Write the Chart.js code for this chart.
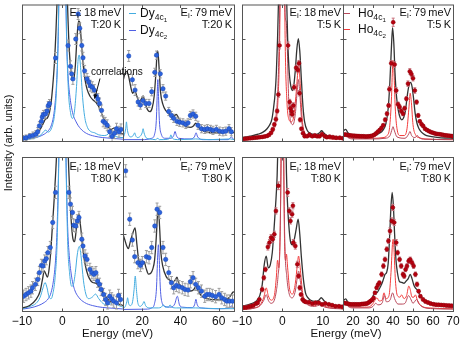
<!DOCTYPE html>
<html><head><meta charset="utf-8">
<script src="https://cdn.jsdelivr.net/npm/chart.js@4.4.1/dist/chart.umd.min.js"></script>
<style>
html,body{margin:0;padding:0;background:#fff;}
#wrap{position:relative;width:463px;height:339px;overflow:hidden;font-family:"Liberation Sans",Arial,Helvetica,sans-serif;color:#111;}
#wrap canvas{position:absolute;left:0;top:0;}
.ann{position:absolute;font-size:11px;line-height:12px;white-space:nowrap;text-align:right;}
.leg{position:absolute;font-size:12px;line-height:12px;white-space:nowrap;}
.ln{display:inline-block;height:1px;vertical-align:middle;}
sub{font-size:72%;vertical-align:-0.3em;line-height:0;}
.xt{position:absolute;top:327px;width:120px;text-align:center;font-size:11.5px;line-height:12px;}
#ytitle{position:absolute;left:-92px;top:137px;width:200px;text-align:center;transform:rotate(-90deg);font-size:11px;line-height:12px;}
</style></head>
<body><div id="wrap"></div>
<script>
// ---------- axis ticks ----------
const xTicks18 = [-10, 0, 10];
const xTicksDy79 = [20, 40, 60];
const xTicksHo79 = [20, 30, 40, 50, 60, 70];
const yTicks = [0, 25, 50, 75, 100];
const range18 = [-10, 15];
const rangeDy79 = [10, 68];
const rangeHo79 = [15, 70];

// ---------- Dy, Ei 18 meV, T 20 K ----------
const dyE18T20_obs = [[-9.8,2.0,2],[-9.0,2.4,2],[-8.1,3.5,2],[-7.3,4.1,2.5],[-6.6,5.0,2.5],[-6.1,6.8,3],[-5.7,11.1,3],[-5.2,14.4,3],[-5.0,17.6,3],[-4.7,19.4,3],[-4.2,19.8,3],[-3.8,22.0,3],[-3.5,25.9,3],[-3.2,27.4,3],[-1.7,60.8,4],[1.4,69.9,4],[2.0,54.7,4],[2.3,49.2,4],[2.6,45.5,4],[3.3,74.7,4],[3.9,93.0,4],[4.3,82.6,4],[4.8,70.0,4],[5.1,61.0,4],[5.5,51.4,4],[6.1,45.5,4],[6.5,43.3,4],[6.9,40.5,4],[7.4,39.4,4],[7.9,37.3,4],[8.4,32.9,4],[8.8,30.7,4],[9.2,27.5,4],[9.7,22.4,4],[10.1,14.4,4],[10.6,13.3,4],[11.1,11.5,4],[11.7,6.8,4],[12.3,3.5,4],[12.9,5.7,4],[13.4,9.0,4],[14.0,6.8,4],[14.5,8.5,4]];
const dyE18T20_calc = [[-10,2],[-8,3],[-6.5,5],[-5.5,8.5],[-4.8,12.5],[-4.2,16],[-3.7,17],[-3.2,21],[-2.8,28],[-2.4,40],[-2.0,56],[-1.6,80],[-1.2,115],[-0.7,190],[0,260],[0.7,190],[1.1,120],[1.5,80],[1.9,58],[2.4,46],[2.8,45],[3.2,55],[3.6,75],[4.0,88],[4.3,87],[4.7,72],[5.1,57],[5.6,45],[6.1,38],[6.8,33],[7.6,30],[8.4,28],[9.2,24],[10,18],[11,12],[12,8.5],[12.8,9.5],[13.5,7.5],[15,5]];
const dyE18T20_c1 = [[-10,1],[-8,1.5],[-6.5,2.5],[-5.3,4.5],[-4.6,7],[-4.1,8],[-3.6,6.5],[-3.0,7.5],[-2.5,11],[-2.0,18],[-1.5,35],[-1.1,70],[-0.7,140],[0,260],[0.7,140],[1.1,70],[1.5,36],[2.0,21],[2.5,16.5],[3.0,22],[3.5,40],[3.9,60],[4.15,63],[4.5,54],[5.0,32],[5.5,18],[6.2,10],[7.0,7],[8.0,6],[9,4.5],[10.5,4],[11.3,5],[11.8,6.5],[12.3,5],[13.5,3],[15,2.5]];
const dyE18T20_c2 = [[-10,1],[-8,1.8],[-6,3],[-4.5,5],[-3.5,7.5],[-2.8,11],[-2.2,18],[-1.8,28],[-1.4,45],[-1.0,80],[-0.6,160],[0,260],[0.6,160],[1.0,80],[1.4,48],[1.8,34],[2.5,21],[3.4,14],[4.5,9],[6,5.5],[8,3.5],[10,2.5],[12,2],[15,1.3]];

// ---------- Dy, Ei 79 meV, T 20 K ----------
const dyE79T20_obs = [[13.0,62.3,4],[14.9,44.9,4],[16.3,37.3,4],[17.9,28.6,3],[19.1,26.3,3],[20.4,29.6,3],[21.9,27.5,3],[23.6,27.5,3],[25.0,36.1,3],[26.6,50.3,3],[27.5,62.9,3],[29.5,49.2,3],[30.9,38.3,3],[32.3,32.9,3],[33.9,21.6,3],[35.3,18.7,3],[36.5,16.6,3],[38.2,14.4,3],[39.6,13.7,3],[41.3,13.3,3],[42.8,12.2,3],[44.0,13.3,3],[45.2,18.7,3],[46.6,19.8,3],[48.0,18.1,3],[49.2,11.5,3],[51.0,9.0,3],[52.7,8.5,3],[54.1,9.0,3],[55.7,8.5,3],[57.0,7.8,3],[58.8,8.5,3],[60.5,7.2,3],[62.2,6.8,3],[63.7,7.2,3],[65.4,9.0,3],[66.6,6.8,3]];
const dyE79T20_calc = [[10,44],[11,49],[12,51],[13,47],[14,40],[15,35],[16.2,37],[17.2,33],[18.5,29],[19.7,31],[20.5,33],[21.5,28],[22.8,23],[24,21.5],[25.2,24],[26.3,33],[27.2,50],[27.8,64],[28.2,66],[28.8,55],[29.6,36],[30.8,27],[32.5,22],[34.5,19.5],[36.5,18],[37.8,19.5],[39,17],[41,13],[43,10.5],[45,10],[46.8,11],[48,13],[49.2,10.5],[51,8],[54,6.5],[58,6],[62,6],[64.5,7],[65.8,8.5],[67,6.5],[68,6]];
const dyE79T20_c1 = [[10,2],[11,6],[11.4,9],[11.8,14],[12.2,9],[12.8,5],[13.8,3],[15,3.5],[15.7,5],[16.1,6],[16.6,4],[17.5,2.5],[19,3.5],[20,6],[20.5,9],[21,6],[22,2.5],[24,1.5],[27,1],[28.2,2],[29,1],[33,1.2],[34.5,2.5],[35,4.5],[35.6,2.5],[37,1.2],[40,1],[48,1.5],[55,1],[66,1.5],[68,1]];
const dyE79T20_c2 = [[10,1],[20,1],[25,2],[26.5,5],[27.4,15],[27.9,35],[28.2,45],[28.5,35],[29,15],[30,5],[32,2],[35,2],[36.5,4],[37.2,7],[37.9,4],[39,2],[45,1.5],[47.3,3],[48.2,6],[49,3],[52,1],[65,1],[66.7,3],[67.5,1.5],[68,1]];

// ---------- Ho, Ei 18 meV, T 5 K ----------
const hoE18T5_obs = [[-9.8,1.5,1],[-9.2,1.7,1],[-8.6,1.9,1],[-8.0,2.0,1],[-7.4,2.2,1],[-6.8,2.4,1],[-6.2,2.6,1],[-5.6,2.8,1],[-5.0,3.0,1],[-4.4,3.3,1],[-3.8,3.7,1],[-3.3,4.5,1],[-2.8,6.0,1],[-2.4,8.5,1.5],[-2.0,12,1.5],[-1.6,16,1.5],[-1.3,22,1.5],[-1.0,34,2],[-0.7,70,2.5],[1.4,70,2.5],[1.8,28.5,2],[2.0,24,2],[2.3,21.8,2],[2.4,19.6,2],[2.7,26,2],[2.9,39.4,2],[3.4,53.6,2],[3.8,52,2],[4.1,57,2],[4.25,35,2],[4.4,15.5,1.5],[4.7,9,1],[5.1,5.7,1],[5.5,3.5,1],[6.1,3.5,1],[6.7,4.6,1],[7.4,3.5,1],[8.0,4.1,1],[8.6,3.5,1],[9.2,3.5,1],[9.8,5.0,1],[10.5,3.5,1],[11.0,2.8,1],[11.7,3.2,1],[12.5,2.8,1],[13.3,2.4,1],[14.2,2.4,1],[15.0,2.0,1]];
const hoE18T5_calc = [[-10,2.4],[-8,3.5],[-6,5],[-4.8,6.5],[-3.8,9],[-3.2,11.5],[-2.6,16],[-2.2,24],[-1.8,35],[-1.5,50],[-1.2,75],[-0.9,110],[-0.5,180],[0,230],[0.5,180],[1.0,110],[1.3,75],[1.7,50],[2.1,40],[2.5,37],[2.8,40],[3.2,52],[3.6,68],[3.95,75],[4.3,66],[4.7,45],[5.1,25],[5.5,14],[6.2,7.5],[7,5.5],[8.3,4.8],[9.2,6],[9.7,7.5],[10.2,6],[11,4],[12.5,3],[15,2]];
const hoE18T5_c1 = [[-10,1.5],[-6,2.5],[-4,4],[-3,6],[-2.2,10],[-1.6,18],[-1.1,40],[-0.7,90],[-0.3,200],[0,240],[0.3,200],[0.55,110],[0.75,90],[0.95,87],[1.2,70],[1.5,35],[2,15],[2.6,12],[3.2,20],[3.7,38],[3.95,45],[4.3,35],[4.8,14],[5.5,6],[6.5,3.5],[9,2.5],[9.7,4],[10.5,2.5],[15,1.2]];
const hoE18T5_c2 = [[-10,1.2],[-6,2],[-4,3],[-3,4.5],[-2.2,8],[-1.6,14],[-1.1,30],[-0.7,70],[-0.3,180],[0,220],[0.3,180],[0.7,70],[1.1,30],[1.6,16],[2.2,14],[2.8,18],[3.4,35],[3.85,52],[4.05,57],[4.4,42],[4.9,16],[5.5,6],[6.5,3],[9,2.5],[9.7,4.5],[10.5,2.3],[15,1]];

// ---------- Ho, Ei 79 meV, T 5 K ----------
const hoE79T5_obs = [[15.3,4.6,1],[16.2,4.8,1],[17.1,4.4,1],[18.0,4.2,1],[18.9,4.0,1],[19.8,3.9,1],[20.7,3.8,1],[21.6,3.7,1],[22.5,3.6,1],[23.4,3.5,1],[24.3,3.4,1],[25.2,3.4,1],[26.1,3.3,1],[27.0,3.3,1],[27.9,3.4,1],[28.8,3.6,1],[29.7,3.9,1],[30.6,4.5,1],[31.5,5.5,1],[32.4,6.8,1],[33.3,8,1],[34.2,9.5,1],[35.1,11.5,1],[36.1,15.5,1.5],[37.0,20,1.5],[37.8,26,1.5],[38.2,38,2],[39.1,57,2],[40.1,87,3],[40.8,56,2],[41.6,37,2],[42.5,27,1.5],[43.3,25,1.5],[44.1,22,1.5],[45.0,20,1.5],[45.8,24,1.5],[46.7,31,1.5],[47.5,42,2],[48.4,51,2],[49.2,49,2],[50.0,46,2],[50.9,37,2],[51.8,28.5,1.5],[52.6,18.7,1.5],[53.4,14.4,1],[54.3,12.2,1],[55.1,11,1],[56.0,9,1],[57.0,8,1],[58.0,7.2,1],[59.0,6.5,1],[60.0,6,1],[61.0,5.5,1],[62.0,5.2,1],[63.0,5,1],[64.0,4.8,1],[65.0,4.5,1],[66.0,4.2,1],[67.0,4,1],[68.0,3.9,1],[69.0,3.7,1],[69.8,3.5,1]];
const hoE79T5_calc = [[15,7],[16.3,8.5],[17.5,6],[19,4],[22,3.5],[28,3.4],[31,4],[33,5.5],[35,8],[36.5,13],[37.6,24],[38.4,42],[39.1,65],[39.8,83],[40.4,72],[41,50],[41.8,32],[42.7,22],[43.6,17],[44.4,15.5],[45.3,17],[46.2,22],[47.2,34],[48.2,42],[48.8,43],[49.5,40],[50.3,31],[51.1,20],[52,13],[53,9],[54.2,6.5],[56,4.5],[58,3.5],[62,2.7],[66,2.2],[70,2]];
const hoE79T5_c1 = [[15,3],[16.3,4.5],[17.5,2.5],[20,1.5],[30,1.5],[36,2],[38.5,4],[39.6,9],[40,10.5],[40.6,8],[42,3],[46,2],[47.8,5],[48.5,7],[49.3,4],[51,2.5],[52.2,4],[53,2.5],[56,1.3],[70,1]];
const hoE79T5_c2 = [[15,3.5],[16.3,5],[17.5,3],[20,2],[30,2],[35,2.5],[37,4],[38.3,10],[39.2,30],[39.8,55],[40.1,59],[40.5,50],[41.1,25],[42,9],[43.5,4],[45.5,4],[47,9],[48,25],[48.6,35],[49.2,28],[50,12],[51.5,4],[53,2.5],[56,1.5],[70,1]];

// ---------- Dy, Ei 18 meV, T 80 K ----------
const dyE18T80_obs = [[-9.6,9.6,4],[-9.0,10.7,4],[-8.4,11.8,4],[-7.8,12.9,4],[-7.4,15.1,4],[-6.7,17.3,4],[-6.1,20.5,4],[-5.7,24.9,4],[-5.2,29.6,4],[-4.8,29.2,4],[-4.4,32.4,4],[-4.0,34.0,4],[-3.6,37.9,4],[-3.0,41.2,4],[-2.4,57.5,4],[-1.7,77.0,4],[1.6,77.0,4],[2.0,69.4,4],[2.5,64.0,4],[2.8,55.7,4],[3.3,55.2,4],[3.7,58.5,4],[4.1,60.7,4],[4.8,46.6,4],[5.1,42.2,4],[5.6,35.7,4],[6.1,33.5,4],[6.8,27.0,4],[7.3,24.9,4],[7.8,23.8,4],[8.3,24.9,4],[8.7,19.4,4],[9.2,17.3,4],[9.6,14.0,4],[10.2,10.7,4],[10.7,7.5,4],[11.2,5.3,4],[11.7,9.6,4],[12.2,7.9,4],[12.7,6.4,4],[13.4,5.3,4],[13.9,10.1,4],[14.4,7.5,4]];
const dyE18T80_calc = [[-10,2],[-8.1,3.6],[-6.5,7.5],[-5.5,13],[-4.9,21],[-4.5,26],[-4.1,24],[-3.7,22],[-3.3,27],[-2.9,38],[-2.5,54],[-2.1,70],[-1.7,88],[-1.4,105],[-0.8,170],[0,240],[0.8,170],[1.4,105],[1.8,78],[2.2,58],[2.6,47],[3.0,45],[3.4,52],[3.8,60],[4.1,63],[4.5,55],[5.0,42],[5.5,32],[6.0,26],[6.7,21],[7.5,18.5],[8.3,18],[9.0,16],[10,12],[11,8.5],[12,6],[12.8,6.5],[13.5,5],[15,3.5]];
const dyE18T80_c1 = [[-10,1.5],[-8,3],[-6.5,5],[-5.5,9],[-4.8,15],[-4.3,18.5],[-3.8,15],[-3.3,9],[-2.8,8],[-2.3,12],[-1.8,22],[-1.3,45],[-0.8,110],[0,240],[0.8,110],[1.3,45],[1.8,24],[2.3,16],[2.7,17],[3.2,25],[3.7,37],[4.2,42],[4.6,36],[5.2,20],[5.8,11],[6.5,8],[7.4,9],[8.2,11],[9,8],[10,5],[11,4],[12.2,5],[12.7,6],[13.3,4.5],[15,2.5]];
const dyE18T80_c2 = [[-10,1.2],[-8,2],[-6,3.5],[-4.5,5.5],[-3.5,8],[-2.8,12],[-2.2,20],[-1.7,33],[-1.3,55],[-0.9,100],[-0.5,180],[0,240],[0.5,180],[0.9,100],[1.3,55],[1.7,36],[2.3,22],[3.0,14],[4.0,9],[5.5,5.5],[7.5,3.5],[10,2.3],[12.5,1.8],[15,1.3]];

// ---------- Dy, Ei 79 meV, T 80 K ----------
const dyE79T80_obs = [[11.4,91.0,4],[13.5,59.6,4],[14.9,46.1,4],[16.1,35.3,4],[17.8,31.4,4],[19.1,29.6,4],[20.1,31.4,4],[22.2,35.3,4],[23.6,34.6,4],[25.0,41.2,4],[26.6,55.2,4],[27.8,66.1,4],[29.2,64.0,4],[30.9,41.2,4],[32.3,33.5,4],[33.9,24.9,4],[35.3,18.4,4],[36.5,15.1,4],[37.9,16.6,4],[39.3,15.8,4],[41.0,15.1,4],[42.4,14.0,4],[44.0,13.6,4],[45.2,19.0,4],[46.6,21.6,4],[48.0,17.3,4],[49.4,15.1,4],[51.0,12.9,4],[52.7,9.6,4],[53.9,10.7,4],[55.3,10.7,4],[56.7,10.1,4],[58.4,9.3,4],[60.2,10.7,4],[61.6,8.6,4],[63.1,7.5,4],[64.3,6.4,4],[65.7,6.4,4],[67.2,6.4,4]];
const dyE79T80_calc = [[10,50],[11,46],[12,42],[12.8,40.5],[13.8,45],[15,50],[16.3,54],[17.2,44],[18.1,34],[19.2,31],[20.3,31],[21,32],[22,28],[23.3,24],[24.5,24.5],[25.5,27],[26.5,33],[27.4,48],[28,62],[28.5,66],[29.1,55],[29.8,38],[30.8,29],[32.5,22.5],[34.5,20],[36.3,19],[37.5,20.5],[38.2,22],[39,18.5],[40.5,16],[43,13.8],[45.5,13],[47,14],[48.1,16],[49.3,13],[51,9.8],[54,8],[57,7.4],[61,7.2],[64,7.5],[66,9.5],[67.3,12],[68,12.5]];
const dyE79T80_c1 = [[10,1.5],[11.2,3],[12,6],[12.4,8.6],[12.9,5],[13.8,3.5],[15,6],[15.8,14],[16.4,22.7],[17,14],[17.8,5],[19,3],[20.3,4.5],[21,6.2],[21.8,3.5],[24,2],[28.5,2],[30,2.5],[31.1,4],[32,2.5],[33.8,2.5],[34.6,4],[35.4,2.5],[38,2],[48,2],[60,1.5],[68,1.5]];
const dyE79T80_c2 = [[10,1],[22,1.2],[25,2],[26.5,5],[27.5,15],[28.1,35],[28.5,43],[28.9,35],[29.5,15],[30.5,5],[32,3],[35,2.5],[37,4.5],[38.4,9.6],[39.5,4],[41,2.5],[46,2.2],[47.4,4],[48.1,7.6],[48.8,4],[51,2],[60,1.5],[65.5,2],[66.7,3.3],[67.5,2],[68,1.5]];

// ---------- Ho, Ei 18 meV, T 80 K ----------
const hoE18T80_obs = [[-9.6,2.1,1],[-9.0,2.3,1],[-8.3,2.8,1],[-7.8,3.1,1],[-7.2,3.5,1],[-6.5,4.8,1],[-6.1,5.3,1],[-5.7,7.5,1],[-5.0,14,1.5],[-4.6,21.6,1.5],[-4.2,27,1.5],[-3.6,41.6,2],[-3.2,44.4,2],[-2.8,47.7,2],[-2.4,46.6,2],[-2.0,49.8,2],[-1.6,65,2],[-1.0,81.3,2.5],[1.3,77,2.5],[1.7,65,2],[2.0,58.5,2],[2.4,62.9,2],[2.6,68.3,2],[2.7,44.4,2],[3.2,42.2,2],[3.7,30.3,2],[4.0,22.7,1.5],[4.3,15.1,1.5],[4.6,10.7,1],[5.0,7.5,1],[5.4,6.4,1],[5.8,5.9,1],[6.6,5.7,1],[7.4,4.8,1],[8.2,5.3,1],[9.0,5.3,1],[9.8,4.3,1],[10.6,4.8,1],[11.5,4.3,1],[12.3,3.8,1],[13.1,3.1,1],[14.0,3.1,1],[14.8,2.7,1]];
const hoE18T80_calc = [[-10,3],[-8,4.5],[-6.5,6.4],[-5.6,10],[-5.0,17],[-4.5,30],[-4.0,35.6],[-3.5,28],[-3.0,30],[-2.5,38],[-2.1,52],[-1.7,68],[-1.3,88],[-0.9,130],[0,230],[0.7,140],[1.0,90],[1.3,68],[1.7,52],[2.1,44],[2.5,43],[2.9,46],[3.4,53],[3.9,59.6],[4.3,50],[4.7,35],[5.2,20.5],[5.7,12],[6.2,9],[7.0,7],[8.0,6.2],[9.0,7],[9.6,8.6],[10.2,7],[11,5],[12.5,4],[15,3.1]];
const hoE18T80_c1 = [[-10,1],[-7,1.8],[-5.5,3.5],[-4.6,7],[-4.0,10.6],[-3.5,7],[-2.8,5],[-2,7],[-1.5,13],[-1.1,22],[-0.6,45],[-0.2,120],[0,170],[0.2,120],[0.6,45],[1.1,22],[1.6,12],[2.4,8.5],[3.2,13],[3.7,22],[4.0,26],[4.4,20],[5,9],[6,4.5],[8,3],[9.5,4],[10.5,2.5],[15,1.3]];
const hoE18T80_c2 = [[-10,1],[-7,2],[-5.5,4],[-4.6,9],[-4.0,15],[-3.5,10],[-2.8,7],[-2.0,10],[-1.5,22],[-1.2,33],[-0.9,28],[-0.5,60],[-0.2,150],[0,200],[0.2,150],[0.5,50],[0.8,33],[1.0,37],[1.3,28],[1.8,14],[2.5,11],[3.2,18],[3.7,30],[4.0,35.7],[4.4,28],[5,12],[6,5],[8,3.5],[9.5,5],[10.5,3],[15,1.5]];

// ---------- Ho, Ei 79 meV, T 80 K ----------
const hoE79T80_obs = [[15.3,5.3,1],[16.2,5.0,1],[17.1,4.8,1],[18.0,4.5,1],[18.9,4.3,1],[19.8,4.3,1],[20.7,4.3,1],[21.6,4.3,1],[22.5,4.3,1],[23.4,4.3,1],[24.3,4.5,1],[25.2,4.6,1],[26.1,4.7,1],[27.0,4.9,1],[27.9,5.6,1],[28.7,6.4,1],[29.5,7.2,1],[30.3,8.5,1],[31.0,11.8,1],[31.8,15.1,1],[32.5,17,1],[33.2,18.4,1],[34.3,23.8,1.5],[35.2,29.2,1.5],[36.0,33.5,1.5],[36.9,40.1,1.5],[37.7,45.5,1.5],[38.5,52,2],[39.4,58.5,2],[39.9,67.2,2],[40.6,57.5,2],[41.6,44.4,2],[42.3,37.9,1.5],[43.3,33.5,1.5],[44.1,29.2,1.5],[45.0,23.8,1.5],[45.6,22.7,1.5],[46.3,27,1.5],[47.0,29.2,1.5],[47.8,32.4,1.5],[48.6,33.5,1.5],[49.5,31.4,1.5],[50.3,29.2,1.5],[51.2,23.8,1.5],[52.0,17.3,1.5],[52.8,12.9,1],[53.7,9.6,1],[55.0,7.5,1],[56.2,6.2,1],[57.5,5.5,1],[58.8,4.8,1],[60.2,4.4,1],[61.5,4.1,1],[62.8,4.0,1],[64.1,3.9,1],[65.4,3.8,1],[66.7,3.6,1],[68.0,3.5,1],[69.3,3.4,1]];
const hoE79T80_calc = [[15,6.4],[16.3,7.9],[17.5,5.5],[18.5,4.3],[22,4.2],[26.5,4.3],[28.5,6],[29.8,9],[31,12.3],[32,12],[33,14],[34.3,17.3],[35.3,21],[36,23.8],[36.8,25],[37.6,31],[38.3,48],[39,68],[39.6,77],[40.2,68],[40.8,50],[41.5,33],[42.2,25],[43.3,19],[44.5,18.5],[45.5,18],[46.6,19.5],[47.6,21],[48.6,23.8],[49.5,21],[50.5,16.6],[51.5,14.5],[52.2,13.6],[53.4,10.5],[54.6,8.5],[56.9,6.2],[60,4.5],[62,4],[66,3],[70,2.4]];
const hoE79T80_c1 = [[15,3.5],[16.3,5],[17.5,3],[20,2],[28,2],[30,3],[31.3,5],[32.5,4],[34.5,5],[35.7,10],[36.7,6],[38.5,7],[39.8,11.8],[40.8,8],[42.5,4.5],[44.5,4.5],[46,5],[47.8,10],[48.8,8],[50,5],[51.8,7.5],[52.8,5],[55,2.5],[60,1.5],[70,1.2]];
const hoE79T80_c2 = [[15,4],[16.3,5.5],[17.5,3.5],[20,2.5],[27,2.5],[29.5,4],[31,7],[32,8.6],[33,6.5],[34.5,7],[35.5,11.8],[36.5,8],[38,10],[39,25],[39.8,45],[40.1,46.6],[40.5,40],[41.2,20],[42.2,10],[43.5,9],[44.3,10.5],[45.5,8],[46.8,10],[47.9,16.2],[48.6,14],[49.5,9],[50.5,9],[51.2,10.5],[52.2,7],[54,3.5],[58,2],[70,1.5]];

// ---------- layout & style (not data) ----------
const COLS = [[22,123],[123,234],[242,343],[343,453]];
const ROWS = [[4,157],[157,311]];
const AX_H = 16;
const STYLE = {
  dy: {pt:'#2b62dc', edge:'#1b46b4', err:'#9d9d9d', c1:'#44ace0', c2:'#5060e4', r:2.2},
  ho: {pt:'#b5000f', edge:'#8c0008', err:'#c9707c', c1:'#b8485a', c2:'#f23c3c', r:2.0}
};
const panels = [
  {col:0,row:0,el:'dy',range:range18,xt:xTicks18,obs:dyE18T20_obs,calc:dyE18T20_calc,c1:dyE18T20_c1,c2:dyE18T20_c2},
  {col:1,row:0,el:'dy',range:rangeDy79,xt:xTicksDy79,obs:dyE79T20_obs,calc:dyE79T20_calc,c1:dyE79T20_c1,c2:dyE79T20_c2},
  {col:2,row:0,el:'ho',range:range18,xt:xTicks18,obs:hoE18T5_obs,calc:hoE18T5_calc,c1:hoE18T5_c1,c2:hoE18T5_c2},
  {col:3,row:0,el:'ho',range:rangeHo79,xt:xTicksHo79,obs:hoE79T5_obs,calc:hoE79T5_calc,c1:hoE79T5_c1,c2:hoE79T5_c2},
  {col:0,row:1,el:'dy',range:range18,xt:xTicks18,obs:dyE18T80_obs,calc:dyE18T80_calc,c1:dyE18T80_c1,c2:dyE18T80_c2},
  {col:1,row:1,el:'dy',range:rangeDy79,xt:xTicksDy79,obs:dyE79T80_obs,calc:dyE79T80_calc,c1:dyE79T80_c1,c2:dyE79T80_c2},
  {col:2,row:1,el:'ho',range:range18,xt:xTicks18,obs:hoE18T80_obs,calc:hoE18T80_calc,c1:hoE18T80_c1,c2:hoE18T80_c2},
  {col:3,row:1,el:'ho',range:rangeHo79,xt:xTicksHo79,obs:hoE79T80_obs,calc:hoE79T80_calc,c1:hoE79T80_c1,c2:hoE79T80_c2}
];

const toXY = arr => arr.map(d => ({x:d[0], y:d[1]}));
const fmt = v => (v < 0 ? '\u2212' + Math.abs(v) : String(v));

const framePlugin = {
  id: 'frame',
  afterDraw(chart, args, opts) {
    const {ctx, chartArea:a, scales:{x, y}} = chart;
    ctx.save();
    ctx.strokeStyle = '#555'; ctx.lineWidth = 1;
    ctx.strokeRect(a.left + 0.5, a.top + 0.5, a.right - a.left, a.bottom - a.top);
    const TL = 3;
    ctx.beginPath();
    (opts.xt || []).forEach(v => {
      const px = Math.round(x.getPixelForValue(v)) + 0.5;
      if (px <= a.left + 1 || px >= a.right) return;
      ctx.moveTo(px, a.bottom + 0.5); ctx.lineTo(px, a.bottom + 0.5 - TL);
      ctx.moveTo(px, a.top + 0.5); ctx.lineTo(px, a.top + 0.5 + TL);
    });
    (opts.yt || []).forEach(v => {
      const py = Math.round(y.getPixelForValue(v)) + 0.5;
      if (py <= a.top + 1 || py >= a.bottom) return;
      ctx.moveTo(a.left + 0.5, py); ctx.lineTo(a.left + 0.5 + TL, py);
      ctx.moveTo(a.right + 0.5, py); ctx.lineTo(a.right + 0.5 - TL, py);
    });
    ctx.stroke();
    ctx.restore();
  }
};
const errPlugin = {
  id: 'errbars',
  beforeDatasetDraw(chart, args, opts) {
    const ds = chart.data.datasets[args.index];
    if (!ds.errs) return;
    const {ctx, chartArea:a, scales:{y}} = chart;
    const meta = args.meta;
    ctx.save();
    ctx.beginPath(); ctx.rect(a.left, a.top, a.right - a.left, a.bottom - a.top); ctx.clip();
    ctx.strokeStyle = ds.errColor; ctx.lineWidth = 1;
    ctx.beginPath();
    meta.data.forEach((el, i) => {
      const v = ds.data[i].y, e = ds.errs[i];
      const y1 = y.getPixelForValue(v + e), y2 = y.getPixelForValue(v - e);
      ctx.moveTo(el.x, y1); ctx.lineTo(el.x, y2);
      ctx.moveTo(el.x - 1.5, y1); ctx.lineTo(el.x + 1.5, y1);
      ctx.moveTo(el.x - 1.5, y2); ctx.lineTo(el.x + 1.5, y2);
    });
    ctx.stroke();
    ctx.restore();
  }
};

const wrap = document.getElementById('wrap');
panels.forEach(p => {
  const cv = document.createElement('canvas');
  cv.width = 463; cv.height = 339;
  cv.style.width = '463px'; cv.style.height = '339px';
  wrap.appendChild(cv);
  const [L, R] = COLS[p.col];
  const [T, B] = ROWS[p.row];
  const bottom = p.row === 1;
  const s = STYLE[p.el];
  const line = (d, color, w) => ({data: toXY(d), showLine: true, pointRadius: 0, borderColor: color,
    borderWidth: w, cubicInterpolationMode: 'monotone', fill: false});
  new Chart(cv, {
    type: 'scatter',
    data: {datasets: [
      {data: toXY(p.obs), errs: p.obs.map(d => d[2]), errColor: s.err, showLine: false,
       pointRadius: s.r, pointBackgroundColor: s.pt, pointBorderColor: s.edge, pointBorderWidth: 0.5},
      line(p.calc, '#333333', 1.3),
      line(p.c1, s.c1, 1),
      line(p.c2, s.c2, 1)
    ]},
    options: {
      responsive: false, animation: false, events: [], devicePixelRatio: 1,
      layout: {padding: {left: L, right: 463 - R, top: T, bottom: bottom ? 339 - B - AX_H : 339 - B}},
      plugins: {legend: {display: false}, tooltip: {enabled: false}, frame: {xt: p.xt, yt: yTicks}},
      scales: {
        x: {type: 'linear', min: p.range[0], max: p.range[1], display: bottom,
            grid: {display: false, drawTicks: false}, border: {display: false},
            ticks: {font: {family: 'Liberation Sans', size: 12}, color: '#111', padding: 3,
                    maxRotation: 0, autoSkip: false, callback: v => fmt(v)},
            afterBuildTicks: sc => { sc.ticks = p.xt.map(v => ({value: v})); },
            afterFit: sc => { sc.height = AX_H; }},
        y: {type: 'linear', min: 0, max: 100, display: false}
      }
    },
    plugins: [framePlugin, errPlugin]
  });
});

// ---------- text overlays ----------
const ANN = [
  ['E<sub>i</sub>:&#8201;18&#8201;meV', 342, 6], ['T:20&#8201;K', 342, 18],
  ['E<sub>i</sub>:&#8201;79&#8201;meV', 231, 6], ['T:20&#8201;K', 231, 18],
  ['E<sub>i</sub>:&#8201;18&#8201;meV', 122, 6], ['T:5&#8201;K', 122, 18],
  ['E<sub>i</sub>:&#8201;79&#8201;meV', 12, 6], ['T:5&#8201;K', 12, 18],
  ['E<sub>i</sub>:&#8201;18&#8201;meV', 342, 160], ['T:80&#8201;K', 342, 172],
  ['E<sub>i</sub>:&#8201;79&#8201;meV', 231, 160], ['T:80&#8201;K', 231, 172],
  ['E<sub>i</sub>:&#8201;18&#8201;meV', 122, 160], ['T:80&#8201;K', 122, 172],
  ['E<sub>i</sub>:&#8201;79&#8201;meV', 12, 160], ['T:80&#8201;K', 12, 172]
];
let html = '';
ANN.forEach(([t, r, top]) => { html += `<div class="ann" style="right:${r}px;top:${top}px">${t}</div>`; });
const LEG = [
  ['Dy', STYLE.dy.c1, '1', 129, 7, 7, 4], ['Dy', STYLE.dy.c2, '2', 129, 24, 7, 4],
  ['Ho', STYLE.ho.c1, '1', 344, 7, 6, 8], ['Ho', STYLE.ho.c2, '2', 344, 23, 6, 8]
];
LEG.forEach(([el, c, n, l, t, w, g]) => {
  html += `<div class="leg" style="left:${l}px;top:${t}px"><span class="ln" style="width:${w}px;background:${c};margin-right:${g}px"></span>${el}<sub>4c<sub>${n}</sub></sub></div>`;
});
html += `<div class="ann" style="left:91px;top:66px;font-size:10px;text-align:left">correlations</div>`;
html += `<svg width="463" height="339" style="position:absolute;left:0;top:0"><line x1="100" y1="78.5" x2="95.6" y2="95" stroke="#111" stroke-width="1"/><polygon points="94.3,99.3 97.5,95.0 93.7,94.0" fill="#111"/></svg>`;
html += `<div class="xt" style="left:57.5px">Energy (meV)</div><div class="xt" style="left:286px">Energy (meV)</div>`;
html += `<div id="ytitle">Intensity (arb. units)</div>`;
wrap.insertAdjacentHTML('beforeend', html);
</script>
</body></html>
